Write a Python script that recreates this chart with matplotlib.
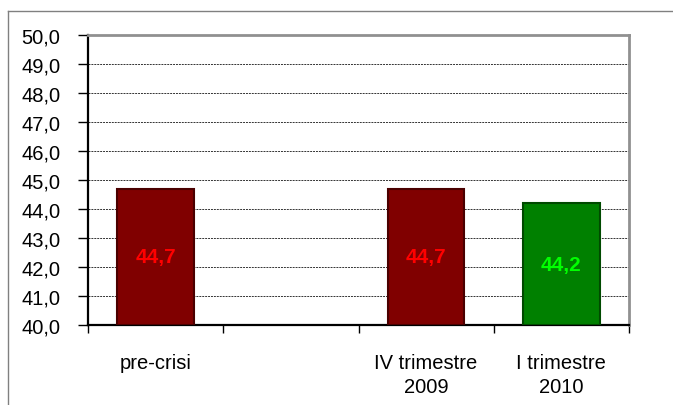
import numpy as np
import matplotlib
matplotlib.use("Agg")
import matplotlib.pyplot as plt
from matplotlib.ticker import FuncFormatter, FixedLocator
from matplotlib.lines import Line2D

plt.rcParams['font.family'] = ['Liberation Sans', 'DejaVu Sans']

# data (second slot has no value)
categories = ["pre-crisi", "", "IV trimestre\n2009", "I trimestre\n2010"]
values = [44.7, np.nan, 44.7, 44.2]
bar_colors = ["#800000", "#800000", "#800000", "#008000"]
edge_colors = ["#4a0000", "#4a0000", "#4a0000", "#004a00"]
label_colors = ["#ff0000", "#ff0000", "#ff0000", "#00ff00"]
y_min, y_max = 40.0, 50.0

fig = plt.figure(figsize=(6.73, 4.06), dpi=100)
ax = fig.add_axes([88 / 673, 80 / 406, 541 / 673, 290 / 406])

x = np.arange(len(categories))
ax.bar(x, np.array(values) - y_min, bottom=y_min, width=0.565,
       color=bar_colors, edgecolor=edge_colors, linewidth=1.5, zorder=3)

# value labels in the middle of each bar
for xi, v, c in zip(x, values, label_colors):
    if np.isnan(v):
        continue
    ax.text(xi, (y_min + v) / 2, f"{v:.1f}".replace(".", ","), color=c,
            fontsize=15, fontweight="bold", ha="center", va="center", zorder=4)

ax.set_xlim(-0.5, len(categories) - 0.5)
ax.set_ylim(y_min, y_max)

ax.yaxis.set_major_locator(FixedLocator(np.arange(40, 51, 1)))
ax.yaxis.set_major_formatter(FuncFormatter(lambda v, p: f"{v:.1f}".replace(".", ",")))
ax.tick_params(axis="y", direction="out", length=7, width=1, pad=13, labelsize=14.5)

ax.set_xticks(x)
ax.set_xticklabels(categories, linespacing=1.35)
ax.set_xticks(np.arange(-0.5, len(categories)), minor=True)
ax.tick_params(axis="x", which="major", length=0, pad=20, labelsize=14.5)
ax.tick_params(axis="x", which="minor", direction="out", length=6, width=1)

# dotted gridlines
for yv in np.arange(41, 50, 1):
    ax.axhline(yv, color="#333333", linewidth=0.7, linestyle=(0, (2, 1)), zorder=1)

for s in ["left", "bottom"]:
    ax.spines[s].set_color("black")
    ax.spines[s].set_linewidth(1.6)
for s in ["top", "right"]:
    ax.spines[s].set_color("#909090")
    ax.spines[s].set_linewidth(2)

# outer chart frame (only left and top edges visible)
fig.add_artist(Line2D([8 / 673, 8 / 673], [0, 1 - 12 / 406], transform=fig.transFigure,
                      color="#808080", linewidth=1))
fig.add_artist(Line2D([8 / 673, 1], [1 - 12 / 406, 1 - 12 / 406], transform=fig.transFigure,
                      color="#808080", linewidth=1))

fig.savefig("out.png", dpi=100)
